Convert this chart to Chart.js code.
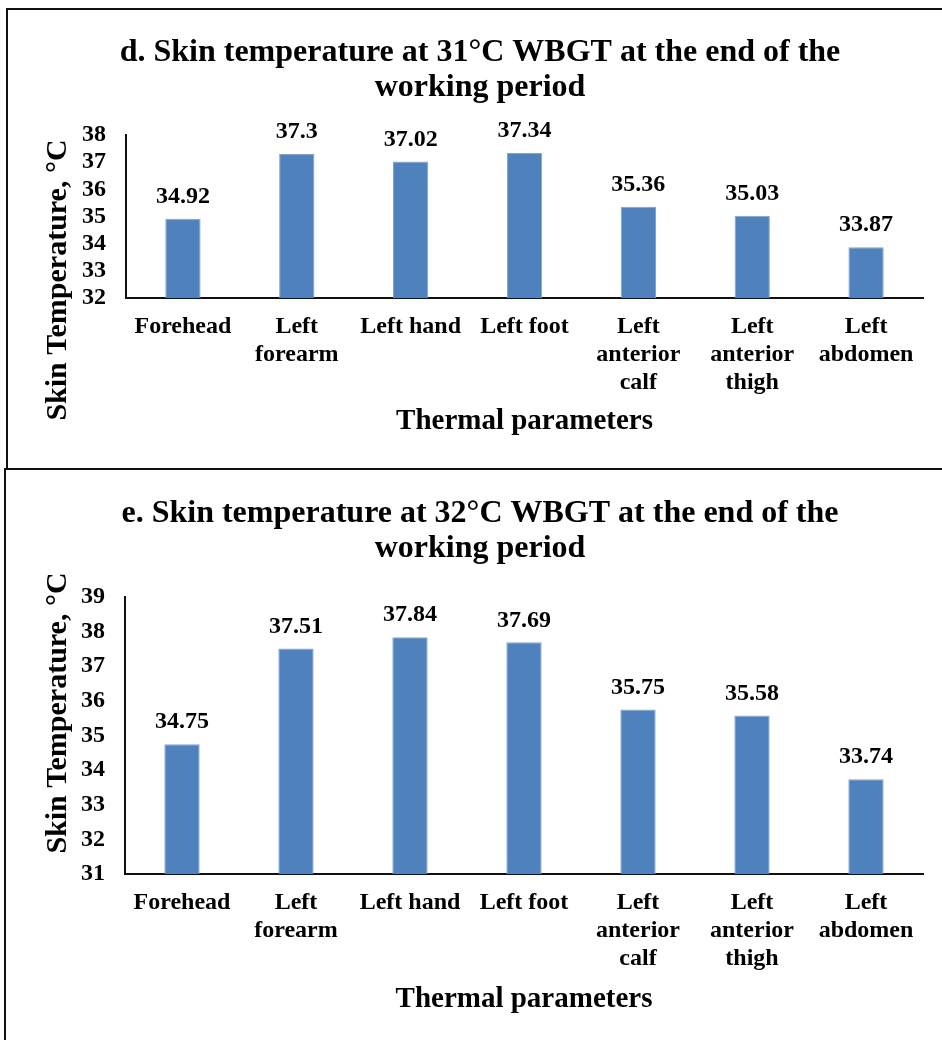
<!DOCTYPE html>
<html>
<head>
<meta charset="utf-8">
<script src="https://cdn.jsdelivr.net/npm/chart.js@4.4.1/dist/chart.umd.min.js"></script>
<style>
    body { margin: 0; background: #fff; overflow: hidden; width: 942px; height: 1040px; position: relative; }
    canvas { position: absolute; left: 0; }
    .frame { position: absolute; box-sizing: border-box; border: 2px solid #111; pointer-events: none; }
</style>
</head>
<body>
<canvas id="chartD" width="960" height="468" style="top:0"></canvas>
<canvas id="chartE" width="960" height="572" style="top:468px"></canvas>
<div class="frame" style="left:6px; top:8px; width:1000px; height:462px;"></div>
<div class="frame" style="left:4px; top:468px; width:1000px; height:1000px;"></div>
<script>
const categories = [
    'Forehead',
    ['Left', 'forearm'],
    'Left hand',
    'Left foot',
    ['Left', 'anterior', 'calf'],
    ['Left', 'anterior', 'thigh'],
    ['Left', 'abdomen']
];
const valuesD = [34.92, 37.3, 37.02, 37.34, 35.36, 35.03, 33.87];
const valuesE = [34.75, 37.51, 37.84, 37.69, 35.75, 35.58, 33.74];
const titleD = ['d. Skin temperature at 31°C WBGT at the end of the', 'working period'];
const titleE = ['e. Skin temperature at 32°C WBGT at the end of the', 'working period'];
const yTitle = 'Skin Temperature, °C';
const xTitle = 'Thermal parameters';

const FONT = "'Liberation Serif', 'Times New Roman', serif";

// value labels above each bar
const barLabels = {
    id: 'barLabels',
    afterDatasetsDraw(chart) {
        const ctx = chart.ctx;
        const meta = chart.getDatasetMeta(0);
        ctx.save();
        ctx.font = 'bold 24px ' + FONT;
        ctx.fillStyle = '#000';
        ctx.textAlign = 'center';
        ctx.textBaseline = 'middle';
        meta.data.forEach((bar, i) => {
            ctx.fillText(String(chart.data.datasets[0].data[i]), bar.x, bar.y - 22);
        });
        ctx.restore();
    }
};

// rotated y axis title, placed like the original (not centred on the axis)
const sideTitle = {
    id: 'sideTitle',
    afterDraw(chart, args, opts) {
        const ctx = chart.ctx;
        ctx.save();
        ctx.translate(opts.x, opts.y);
        ctx.rotate(-Math.PI / 2);
        ctx.font = 'bold 30px ' + FONT;
        ctx.fillStyle = '#000';
        ctx.textAlign = 'center';
        ctx.textBaseline = 'alphabetic';
        ctx.fillText(opts.text, 0, 0);
        ctx.restore();
    }
};

function makeChart(id, values, title, yMin, yMax, cfg) {
    const ctx = document.getElementById(id).getContext('2d');
    return new Chart(ctx, {
        type: 'bar',
        data: {
            labels: categories,
            datasets: [{
                data: values,
                backgroundColor: '#4F81BD',
                borderColor: '#7FA3D3',
                borderWidth: 1,
                categoryPercentage: 1,
                barPercentage: 0.31
            }]
        },
        options: {
            responsive: false,
            animation: false,
            // left/right padding also keeps the title centred near x=480
            layout: { padding: { left: 37, right: 37, top: 0, bottom: 0 } },
            plugins: {
                legend: { display: false },
                tooltip: { enabled: false },
                title: {
                    display: true,
                    text: title,
                    color: '#000',
                    font: { family: FONT, size: 32, weight: 'bold', lineHeight: '35px' },
                    padding: { top: cfg.titleTop, bottom: cfg.titleBottom }
                },
                sideTitle: { text: yTitle, x: 66, y: cfg.yTitleY }
            },
            scales: {
                x: {
                    grid: { display: false, drawTicks: false },
                    border: { display: true, color: '#111', width: 2 },
                    ticks: {
                        color: '#000',
                        autoSkip: false,
                        maxRotation: 0,
                        padding: 15,
                        font: { family: FONT, size: 24, weight: 'bold', lineHeight: '28px' }
                    },
                    title: {
                        display: true,
                        text: xTitle,
                        color: '#000',
                        font: { family: FONT, size: 29, weight: 'bold', lineHeight: 1.2 },
                        padding: { top: 0, bottom: cfg.xTitleBottom }
                    },
                    afterFit(scale) { scale.height = cfg.xHeight; }
                },
                y: {
                    min: yMin,
                    max: yMax,
                    grid: { display: false, drawTicks: false },
                    border: { display: true, color: '#111', width: 2 },
                    ticks: {
                        stepSize: 1,
                        autoSkip: false,
                        color: '#000',
                        padding: 20,
                        font: { family: FONT, size: 24, weight: 'bold' }
                    },
                    afterFit(scale) { scale.width = cfg.yWidth; }
                }
            }
        },
        plugins: [barLabels, sideTitle]
    });
}

makeChart('chartD', valuesD, titleD, 32, 38,
    { yWidth: 89, titleTop: 35, titleBottom: 30, xHeight: 170, xTitleBottom: 29, yTitleY: 280 });
makeChart('chartE', valuesE, titleE, 31, 39,
    { yWidth: 88, titleTop: 28, titleBottom: 31, xHeight: 166, xTitleBottom: 23, yTitleY: 245 });
</script>
</body>
</html>
